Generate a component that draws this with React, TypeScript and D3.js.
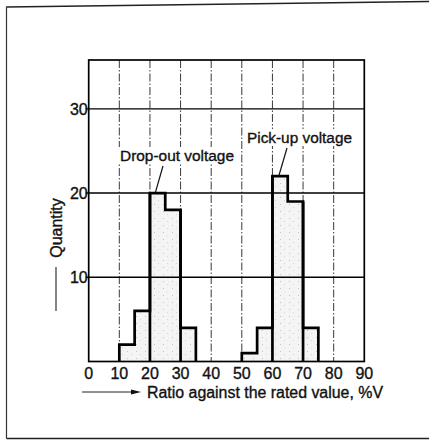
import React from "react";
import * as d3 from "d3";

const binStarts = [10, 15, 20, 25, 30, 50, 55, 60, 65, 70];
const binCounts = [2, 6, 20, 18, 4, 1, 4, 22, 19, 4];
const binWidth = 5;
const xTicks = [0, 10, 20, 30, 40, 50, 60, 70, 80, 90];
const yTicks = [10, 20, 30];
const xTitle = "Ratio against the rated value, %V";
const yTitle = "Quantity";
const dropOutLabel = "Drop-out voltage";
const pickUpLabel = "Pick-up voltage";

const W = 429;
const H = 441;
const FONT = "'Liberation Sans', Arial, Helvetica, sans-serif";

export default function App() {
  const x = d3.scaleLinear().domain([0, 90]).range([88.7, 364.3]);
  const y = d3.scaleLinear().domain([0, 35.8]).range([361.5, 60]);

  const groups: { start: number; counts: number[] }[] = [];
  binStarts.forEach((s, i) => {
    const g = groups[groups.length - 1];
    if (g && Math.abs(g.start + g.counts.length * binWidth - s) < 1e-9) {
      g.counts.push(binCounts[i]);
    } else {
      groups.push({ start: s, counts: [binCounts[i]] });
    }
  });

  const outlinePaths = groups.map((g) => {
    const p = d3.path();
    p.moveTo(x(g.start), y(0));
    g.counts.forEach((c, i) => {
      p.lineTo(x(g.start + i * binWidth), y(c));
      p.lineTo(x(g.start + (i + 1) * binWidth), y(c));
    });
    p.lineTo(x(g.start + g.counts.length * binWidth), y(0));
    return p.toString();
  });

  const fullEdges: { xv: number; top: number }[] = [];
  groups.forEach((g) => {
    for (let i = 1; i < g.counts.length; i++) {
      const a = g.counts[i - 1];
      const b = g.counts[i];
      if (Math.abs(a - b) > 8) fullEdges.push({ xv: g.start + i * binWidth, top: Math.max(a, b) });
    }
  });

  const [x0, x1] = x.range();
  const [yb, yt] = y.range();
  const txt = { fill: "#111", stroke: "#111", strokeWidth: 0.35 };

  return (
    <svg
      width={W}
      height={H}
      style={{ position: "absolute", left: 0, top: 0, background: "#fff" }}
      fontFamily={FONT}
    >
      <defs>
        <pattern id="stip" width="9" height="7" patternUnits="userSpaceOnUse">
          <rect width="9" height="7" fill="#f4f4f4" />
          <rect x="1" y="1" width="1" height="1" fill="#c4c4c4" />
          <rect x="5" y="4" width="1" height="1" fill="#d6d6d6" />
        </pattern>
      </defs>
      <line x1={6.5} y1={7} x2={W} y2={1.5} stroke="#222" strokeWidth={1.3} />
      <line x1={6.5} y1={6.5} x2={6.5} y2={438.5} stroke="#333" strokeWidth={1.2} />
      <line x1={6.5} y1={438.5} x2={W} y2={438.5} stroke="#222" strokeWidth={1.5} />

      {binStarts.map((s, i) => (
        <rect
          key={i}
          x={x(s)}
          y={y(binCounts[i])}
          width={x(s + binWidth) - x(s)}
          height={y(0) - y(binCounts[i])}
          fill="url(#stip)"
        />
      ))}

      {xTicks.slice(1, -1).map((t) => (
        <line
          key={t}
          x1={x(t)}
          x2={x(t)}
          y1={yt}
          y2={yb}
          stroke="#222"
          strokeWidth={0.9}
          strokeDasharray="8,2,1.5,2"
        />
      ))}
      {yTicks.map((t) => (
        <line key={t} x1={x0 - 3} x2={x1} y1={y(t)} y2={y(t)} stroke="#000" strokeWidth={1.4} />
      ))}

      <rect x={x0} y={yt} width={x1 - x0} height={yb - yt} fill="none" stroke="#000" strokeWidth={1.7} />

      {outlinePaths.map((d, i) => (
        <path key={i} d={d} fill="none" stroke="#000" strokeWidth={2.7} strokeLinejoin="miter" />
      ))}
      {fullEdges.map((e, i) => (
        <line key={i} x1={x(e.xv)} x2={x(e.xv)} y1={y(0)} y2={y(e.top)} stroke="#000" strokeWidth={2.7} />
      ))}

      {xTicks.map((t) => (
        <text key={t} x={x(t)} y={378.5} textAnchor="middle" fontSize={16} {...txt}>
          {t}
        </text>
      ))}
      {yTicks.map((t) => (
        <text key={t} x={x0 - 1} y={y(t) + 6} textAnchor="end" fontSize={16} {...txt}>
          {t}
        </text>
      ))}

      <line x1={82} x2={134} y1={392} y2={392} stroke="#222" strokeWidth={1} />
      <path d="M131,389.5 L141,392 L131,394.5 Z" fill="#111" />
      <text x={147} y={398} fontSize={16} {...txt} textLength={236} lengthAdjust="spacingAndGlyphs">
        {xTitle}
      </text>

      <text transform="translate(62,228) rotate(-90)" textAnchor="middle" fontSize={16} {...txt}>
        {yTitle}
      </text>
      <line x1={56} x2={56} y1={267} y2={311} stroke="#222" strokeWidth={1.1} />

      <rect x={118} y={147} width={118} height={17} fill="#fff" />
      <text x={120} y={160.5} fontSize={15.5} {...txt} textLength={114} lengthAdjust="spacingAndGlyphs">
        {dropOutLabel}
      </text>
      <line x1={163} y1={166} x2={155.5} y2={y(20) - 1} stroke="#111" strokeWidth={1.2} />
      <rect x={245} y={129} width={109} height={17} fill="#fff" />
      <text x={247} y={142.5} fontSize={15.5} {...txt} textLength={105} lengthAdjust="spacingAndGlyphs">
        {pickUpLabel}
      </text>
      <line x1={287} y1={148} x2={279} y2={y(22) - 1} stroke="#111" strokeWidth={1.2} />
    </svg>
  );
}
